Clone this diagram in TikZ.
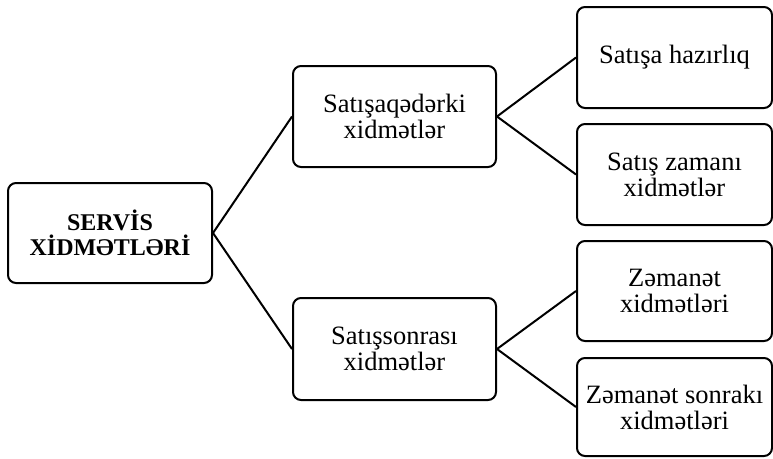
\documentclass[tikz,border=0pt]{standalone}
\usepackage{fontspec}
\setmainfont{Liberation Serif}
\begin{document}
\begin{tikzpicture}[x=1pt,y=-1pt,
  box/.style={draw, line width=2pt, rounded corners=8pt, align=center, inner sep=0pt,
    font=\fontsize{26.5}{26}\selectfont},
  link/.style={line width=2pt}]
\useasboundingbox (0,0) rectangle (773,458);
\node[box, minimum width=204pt, minimum height=100pt, font=\fontsize{24}{25}\selectfont\bfseries] (root) at (110,233) {SERVİS\\XİDMƏTLƏRİ};
\node[box, minimum width=203pt, minimum height=101pt] (pre) at (394.5,116.5) {Satışaqədərki\\xidmətlər};
\node[box, minimum width=203pt, minimum height=102pt] (post) at (394.5,349) {Satışsonrası\\xidmətlər};
\node[box, minimum width=195pt, minimum height=101pt] (r1) at (674.5,57.5) {Satışa hazırlıq};
\node[box, minimum width=195pt, minimum height=101pt] (r2) at (674.5,174.5) {Satış zamanı\\xidmətlər};
\node[box, minimum width=195pt, minimum height=100pt] (r3) at (674.5,291) {Zəmanət\\xidmətləri};
\node[box, minimum width=195pt, minimum height=98pt] (r4) at (674.5,407) {Zəmanət sonrakı\\xidmətləri};
\draw[link] (root.east) -- (pre.west);
\draw[link] (root.east) -- (post.west);
\draw[link] (pre.east) -- (r1.west);
\draw[link] (pre.east) -- (r2.west);
\draw[link] (post.east) -- (r3.west);
\draw[link] (post.east) -- (r4.west);
\end{tikzpicture}
\end{document}
